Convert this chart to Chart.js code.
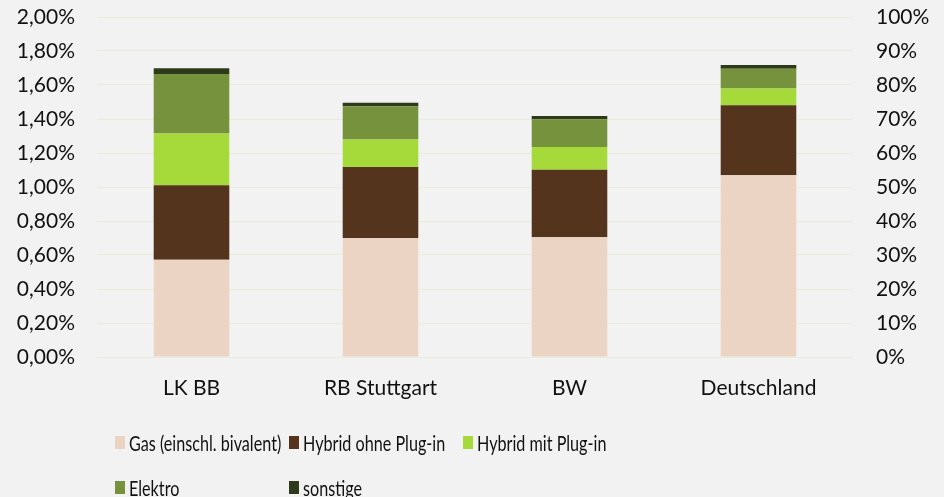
<!DOCTYPE html>
<html>
<head>
<meta charset="utf-8">
<script src="https://cdn.jsdelivr.net/npm/chart.js@4/dist/chart.umd.min.js"></script>
<style>
  html, body { margin: 0; padding: 0; background: #f2f2f2; }
  #wrap { position: relative; width: 944px; height: 497px; background: #f2f2f2; overflow: hidden; }
  #c { position: absolute; left: 0; top: 0; }
  .lg { position: absolute; font-family: Lato, "Open Sans", sans-serif; font-size: 21px; color: #111; white-space: nowrap; height: 24px; line-height: 24px; }
  .lg i { position: absolute; left: 0; top: 5px; width: 10px; height: 13px; }
  .lg span { position: absolute; left: 14px; top: 0; display: inline-block; transform: scaleX(0.77); transform-origin: 0 50%; }
</style>
</head>
<body>
<div id="wrap">
  <canvas id="c" width="944" height="497"></canvas>
  <div id="legend"></div>
</div>
<script>
const categories = ["LK BB", "RB Stuttgart", "BW", "Deutschland"];
const seriesNames = ["Gas (einschl. bivalent)", "Hybrid ohne Plug-in", "Hybrid mit Plug-in", "Elektro", "sonstige"];
const gas        = [0.572, 0.700, 0.704, 1.069];
const hybridOhne = [0.438, 0.418, 0.398, 0.412];
const hybridMit  = [0.304, 0.161, 0.134, 0.098];
const elektro    = [0.351, 0.196, 0.163, 0.116];
const sonstige   = [0.034, 0.021, 0.018, 0.022];
const leftTicks  = [0, 0.2, 0.4, 0.6, 0.8, 1.0, 1.2, 1.4, 1.6, 1.8, 2.0];
const rightTicks = [0, 10, 20, 30, 40, 50, 60, 70, 80, 90, 100];
const colors = ["#ebd4c4", "#55341d", "#a6d93a", "#77923c", "#2e3b1b"];

const seriesValues = [gas, hybridOhne, hybridMit, elektro, sonstige];
const FONT = "Lato, 'Open Sans', sans-serif";

const datasets = seriesNames.map((name, i) => ({
  label: name,
  data: seriesValues[i],
  backgroundColor: colors[i],
  borderWidth: 0,
  yAxisID: 'y',
  barPercentage: 0.8,
  categoryPercentage: 0.5
}));

function noPad(s) { s.paddingTop = 0; s.paddingBottom = 0; }

new Chart(document.getElementById('c'), {
  type: 'bar',
  data: { labels: categories, datasets },
  options: {
    responsive: false,
    animation: false,
    layout: { padding: { top: 17, left: 0, right: 0, bottom: 0 } },
    plugins: { legend: { display: false }, tooltip: { enabled: false } },
    scales: {
      x: {
        stacked: true,
        grid: { display: false, drawTicks: false },
        border: { display: false },
        ticks: { color: '#111', font: { family: FONT, size: 21 }, padding: 19 },
        afterFit: s => { s.height = 140; s.paddingLeft = 0; s.paddingRight = 0; }
      },
      y: {
        stacked: true,
        position: 'left',
        min: 0, max: 2,
        afterBuildTicks: s => { s.ticks = leftTicks.map(v => ({ value: v })); },
        grid: { color: '#e6eed8', lineWidth: 1, drawTicks: false },
        border: { display: false },
        ticks: {
          color: '#111', font: { family: FONT, size: 21 }, padding: 22,
          callback: v => v.toFixed(2).replace('.', ',') + '%'
        },
        afterFit: s => { s.width = 97; noPad(s); }
      },
      y2: {
        position: 'right',
        min: 0, max: 100,
        afterBuildTicks: s => { s.ticks = rightTicks.map(v => ({ value: v })); },
        grid: { display: false, drawTicks: false },
        border: { display: false },
        ticks: {
          color: '#111', font: { family: FONT, size: 21 }, padding: 23,
          callback: v => v + '%'
        },
        afterFit: s => { s.width = 91; noPad(s); }
      }
    }
  }
});

// HTML legend
const legendPos = [[115, 431], [289, 431], [463, 431], [115, 476], [289, 476]];
const lg = document.getElementById('legend');
seriesNames.forEach((name, i) => {
  const d = document.createElement('div');
  d.className = 'lg';
  d.style.left = legendPos[i][0] + 'px';
  d.style.top = legendPos[i][1] + 'px';
  d.innerHTML = '<i style="background:' + colors[i] + '"></i><span>' + name + '</span>';
  lg.appendChild(d);
});
</script>
</body>
</html>
